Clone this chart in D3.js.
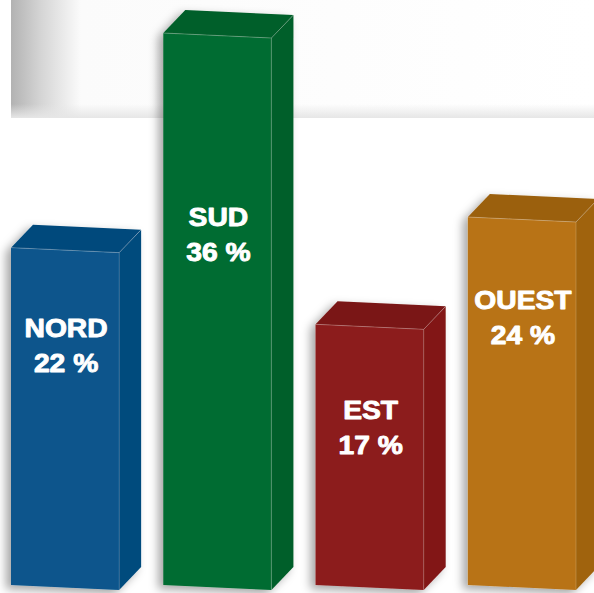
<!DOCTYPE html>
<html>
<head>
<meta charset="utf-8">
<script src="https://cdn.jsdelivr.net/npm/d3@7"></script>
<style>
  html, body { margin: 0; padding: 0; background: #ffffff; }
  svg { display: block; }
</style>
</head>
<body>
<svg id="chart"></svg>
<script>
// data
const regions = ['NORD', 'SUD', 'EST', 'OUEST'];
const shares = [22, 36, 17, 24];
const labelLevel = [16.2, 23.4, 10.8, 18.0]; // value where the first text line sits
const frontColors = ['#08548c', '#046c31', '#8c1c1c', '#b87316'];
const topColors = ['#064a7c', '#035e29', '#7a1715', '#9b600f'];
const sideColors = ['#064b7d', '#035f29', '#821817', '#a0640f'];

function drawChart() {
    const width = 594;
    const height = 593;

    const svg = d3.select('#chart')
        .attr('width', width)
        .attr('height', height);

    const defs = svg.append('defs');

    // grey panel behind the top of the chart
    const panelGrad = defs.append('linearGradient')
        .attr('id', 'panelGrad')
        .attr('x1', '0%').attr('x2', '100%').attr('y1', '0%').attr('y2', '0%');
    panelGrad.append('stop').attr('offset', '0%').attr('stop-color', '#b2b2b2');
    panelGrad.append('stop').attr('offset', '5%').attr('stop-color', '#d4d4d4');
    panelGrad.append('stop').attr('offset', '12%').attr('stop-color', '#fbfbfb');
    panelGrad.append('stop').attr('offset', '100%').attr('stop-color', '#ffffff');

    const panelBottom = defs.append('linearGradient')
        .attr('id', 'panelBottom')
        .attr('x1', '0%').attr('x2', '0%').attr('y1', '0%').attr('y2', '100%');
    panelBottom.append('stop').attr('offset', '0%').attr('stop-color', '#e6e6e6').attr('stop-opacity', 0);
    panelBottom.append('stop').attr('offset', '100%').attr('stop-color', '#e6e6e6').attr('stop-opacity', 1);

    const shadow = defs.append('filter')
        .attr('id', 'shadow')
        .attr('x', '-30%').attr('y', '-10%')
        .attr('width', '160%').attr('height', '130%');
    shadow.append('feDropShadow')
        .attr('dx', -5).attr('dy', 4)
        .attr('stdDeviation', 5)
        .attr('flood-color', '#000')
        .attr('flood-opacity', 0.35);

    svg.append('rect')
        .attr('x', 11).attr('y', 0)
        .attr('width', width - 11).attr('height', 118)
        .attr('fill', 'url(#panelGrad)');
    svg.append('rect')
        .attr('x', 11).attr('y', 104)
        .attr('width', width - 11).attr('height', 14)
        .attr('fill', 'url(#panelBottom)');

    // scales
    const x = d3.scaleBand()
        .domain(regions)
        .range([11, 576])
        .paddingInner(0.29)
        .paddingOuter(0);
    const y = d3.scaleLinear()
        .domain([0, 36])
        .range([585, 33]);

    const depthX = 22;
    const depthY = -23;
    const skew = 5; // right edge of the front sits a bit lower

    const data = regions.map((r, i) => ({
        region: r,
        value: shares[i],
        level: labelLevel[i],
        front: frontColors[i],
        top: topColors[i],
        side: sideColors[i]
    }));

    const bars = svg.selectAll('.bar')
        .data(data)
        .enter().append('g')
        .attr('class', 'bar')
        .attr('filter', 'url(#shadow)');

    const pts = p => p.map(q => q.join(',')).join(' ');

    // side face
    bars.append('polygon')
        .attr('points', d => {
            const x1 = x(d.region) + x.bandwidth();
            const yt = y(d.value) + skew;
            const yb = y(0) + skew;
            return pts([[x1, yt], [x1 + depthX, yt + depthY], [x1 + depthX, yb + depthY], [x1, yb]]);
        })
        .attr('fill', d => d.side);

    // top face
    bars.append('polygon')
        .attr('points', d => {
            const x0 = x(d.region);
            const x1 = x0 + x.bandwidth();
            const yt = y(d.value);
            return pts([[x0, yt], [x0 + depthX, yt + depthY], [x1 + depthX, yt + skew + depthY], [x1, yt + skew]]);
        })
        .attr('fill', d => d.top);

    // front face
    bars.append('polygon')
        .attr('points', d => {
            const x0 = x(d.region);
            const x1 = x0 + x.bandwidth();
            return pts([[x0, y(d.value)], [x1, y(d.value) + skew], [x1, y(0) + skew], [x0, y(0)]]);
        })
        .attr('fill', d => d.front);

    // faint light edges
    bars.append('polyline')
        .attr('points', d => {
            const x0 = x(d.region);
            const x1 = x0 + x.bandwidth();
            const yt = y(d.value);
            return pts([[x0, yt], [x1, yt + skew], [x1 + depthX, yt + skew + depthY]]);
        })
        .attr('fill', 'none')
        .attr('stroke', '#ffffff')
        .attr('stroke-opacity', 0.25)
        .attr('stroke-width', 1);
    bars.append('line')
        .attr('x1', d => x(d.region) + x.bandwidth())
        .attr('x2', d => x(d.region) + x.bandwidth())
        .attr('y1', d => y(d.value) + skew)
        .attr('y2', d => y(0) + skew)
        .attr('stroke', '#ffffff')
        .attr('stroke-opacity', 0.18)
        .attr('stroke-width', 1);

    // labels
    const labels = svg.selectAll('.label')
        .data(data)
        .enter().append('g')
        .attr('class', 'label')
        .attr('transform', d => `translate(${x(d.region) + x.bandwidth() / 2 + 1}, ${y(d.level)}) scale(1.13, 1)`)
        .style('font-family', '"Liberation Sans", Arial, sans-serif')
        .style('font-weight', 'bold')
        .style('font-size', '25px')
        .attr('fill', '#ffffff')
        .attr('stroke', '#ffffff')
        .attr('stroke-width', 0.9)
        .attr('stroke-linejoin', 'round')
        .attr('text-anchor', 'middle');

    labels.append('text')
        .attr('x', 0).attr('y', 0)
        .text(d => d.region);
    labels.append('text')
        .attr('x', 0).attr('y', 35)
        .text(d => `${d.value} %`);
}

window.addEventListener('load', drawChart);
</script>
</body>
</html>
